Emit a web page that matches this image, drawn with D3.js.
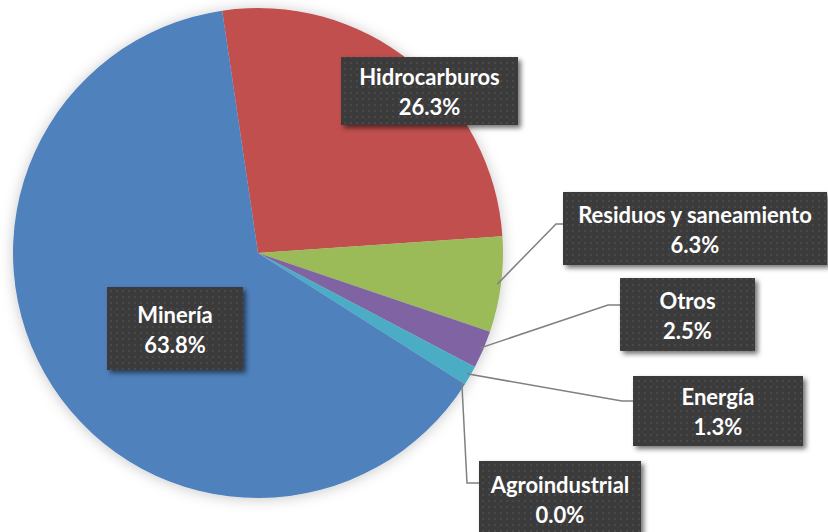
<html>
  <head>
    <meta charset="utf-8">
    <script src="https://d3js.org/d3.v7.min.js" charset="utf-8"></script>
    <style>
      body { margin: 0; background: #fff; }
    </style>
  </head>
  <body>
    <script>
      var w = 828;
      var h = 532;

      // data
      var categories = ["Hidrocarburos", "Residuos y saneamiento", "Otros", "Energía", "Agroindustrial", "Minería"];
      var values = [26.3, 6.3, 2.5, 1.3, 0.0, 63.8];
      var labels = ["26.3%", "6.3%", "2.5%", "1.3%", "0.0%", "63.8%"];

      var colors = ["#c0504d", "#9bbb59", "#8064a2", "#4bacc6", "#f79646", "#4f81bd"];

      // label boxes: x, y, width, height, leader elbow (or null)
      var boxes = [
        {x: 341, y: 57, w: 177, h: 68, elbow: null},
        {x: 563, y: 192, w: 264, h: 73, elbow: [[556, 224], [563, 224]]},
        {x: 620, y: 278, w: 135, h: 73, elbow: [[608, 305], [620, 305]]},
        {x: 633, y: 376, w: 170, h: 70, elbow: [[622, 401], [633, 401]]},
        {x: 479, y: 461, w: 162, h: 75, elbow: [[467, 483], [479, 483]]},
        {x: 107, y: 287, w: 136, h: 83, elbow: null}
      ];

      var cx = 258, cy = 253, r = 245;

      var svg = d3.select("body")
      .append("svg")
      .attr("width", w)
      .attr("height", h);

      var defs = svg.append("defs");

      var pieShadow = defs.append("filter")
      .attr("id", "pieShadow")
      .attr("x", "-20%").attr("y", "-20%")
      .attr("width", "140%").attr("height", "140%");
      pieShadow.append("feDropShadow")
      .attr("dx", 0).attr("dy", 1)
      .attr("stdDeviation", 7)
      .attr("flood-color", "#000")
      .attr("flood-opacity", 0.22);

      var boxShadow = defs.append("filter")
      .attr("id", "boxShadow")
      .attr("x", "-10%").attr("y", "-10%")
      .attr("width", "130%").attr("height", "140%");
      boxShadow.append("feDropShadow")
      .attr("dx", 3).attr("dy", 3)
      .attr("stdDeviation", 2.5)
      .attr("flood-color", "#000")
      .attr("flood-opacity", 0.55);

      var dots = defs.append("pattern")
      .attr("id", "dots")
      .attr("patternUnits", "userSpaceOnUse")
      .attr("width", 6).attr("height", 6);
      dots.append("rect").attr("width", 6).attr("height", 6).attr("fill", "#3b3b3b");
      dots.append("rect").attr("x", 2).attr("y", 2).attr("width", 2).attr("height", 2).attr("fill", "#4a4a4a");

      var pie = d3.pie()
      .sort(null)
      .startAngle(-8.4 * Math.PI / 180)
      .endAngle(-8.4 * Math.PI / 180 + 2 * Math.PI);

      var arcs = pie(values);
      var arc = d3.arc().innerRadius(0).outerRadius(r);

      var g = svg.append("g")
      .attr("transform", "translate(" + cx + "," + cy + ")");

      g.append("g")
      .attr("filter", "url(#pieShadow)")
      .selectAll("path")
      .data(arcs)
      .enter()
      .append("path")
      .attr("d", arc)
      .attr("fill", function(d, i){return colors[i];});

      // leader lines
      arcs.forEach(function(d, i){
        var b = boxes[i];
        if(!b.elbow) return;
        var a = (d.startAngle + d.endAngle) / 2;
        var rr = r * 0.985;
        var sx = cx + rr * Math.sin(a);
        var sy = cy - rr * Math.cos(a);
        var pts = [[sx, sy]].concat(b.elbow);
        svg.append("path")
        .attr("d", d3.line()(pts))
        .attr("fill", "none")
        .attr("stroke", "#808080")
        .attr("stroke-width", 1.5);
      });

      var lg = svg.selectAll(".lbl")
      .data(arcs)
      .enter()
      .append("g")
      .attr("class", "lbl");

      lg.append("rect")
      .attr("x", function(d, i){return boxes[i].x;})
      .attr("y", function(d, i){return boxes[i].y;})
      .attr("width", function(d, i){return boxes[i].w;})
      .attr("height", function(d, i){return boxes[i].h;})
      .attr("fill", "url(#dots)")
      .attr("filter", "url(#boxShadow)");

      lg.append("text")
      .attr("x", function(d, i){return boxes[i].x + boxes[i].w / 2;})
      .attr("y", function(d, i){return boxes[i].y + boxes[i].h / 2 - 6;})
      .attr("text-anchor", "middle")
      .attr("font-family", "Lato, 'Open Sans', sans-serif")
      .attr("font-weight", "bold")
      .attr("font-size", 22)
      .attr("fill", "#fff")
      .text(function(d, i){return categories[i];});

      lg.append("text")
      .attr("x", function(d, i){return boxes[i].x + boxes[i].w / 2;})
      .attr("y", function(d, i){return boxes[i].y + boxes[i].h / 2 + 24;})
      .attr("text-anchor", "middle")
      .attr("font-family", "Lato, 'Open Sans', sans-serif")
      .attr("font-weight", "bold")
      .attr("font-size", 22)
      .attr("fill", "#fff")
      .text(function(d, i){return labels[i];});
    </script>
  </body>
</html>
